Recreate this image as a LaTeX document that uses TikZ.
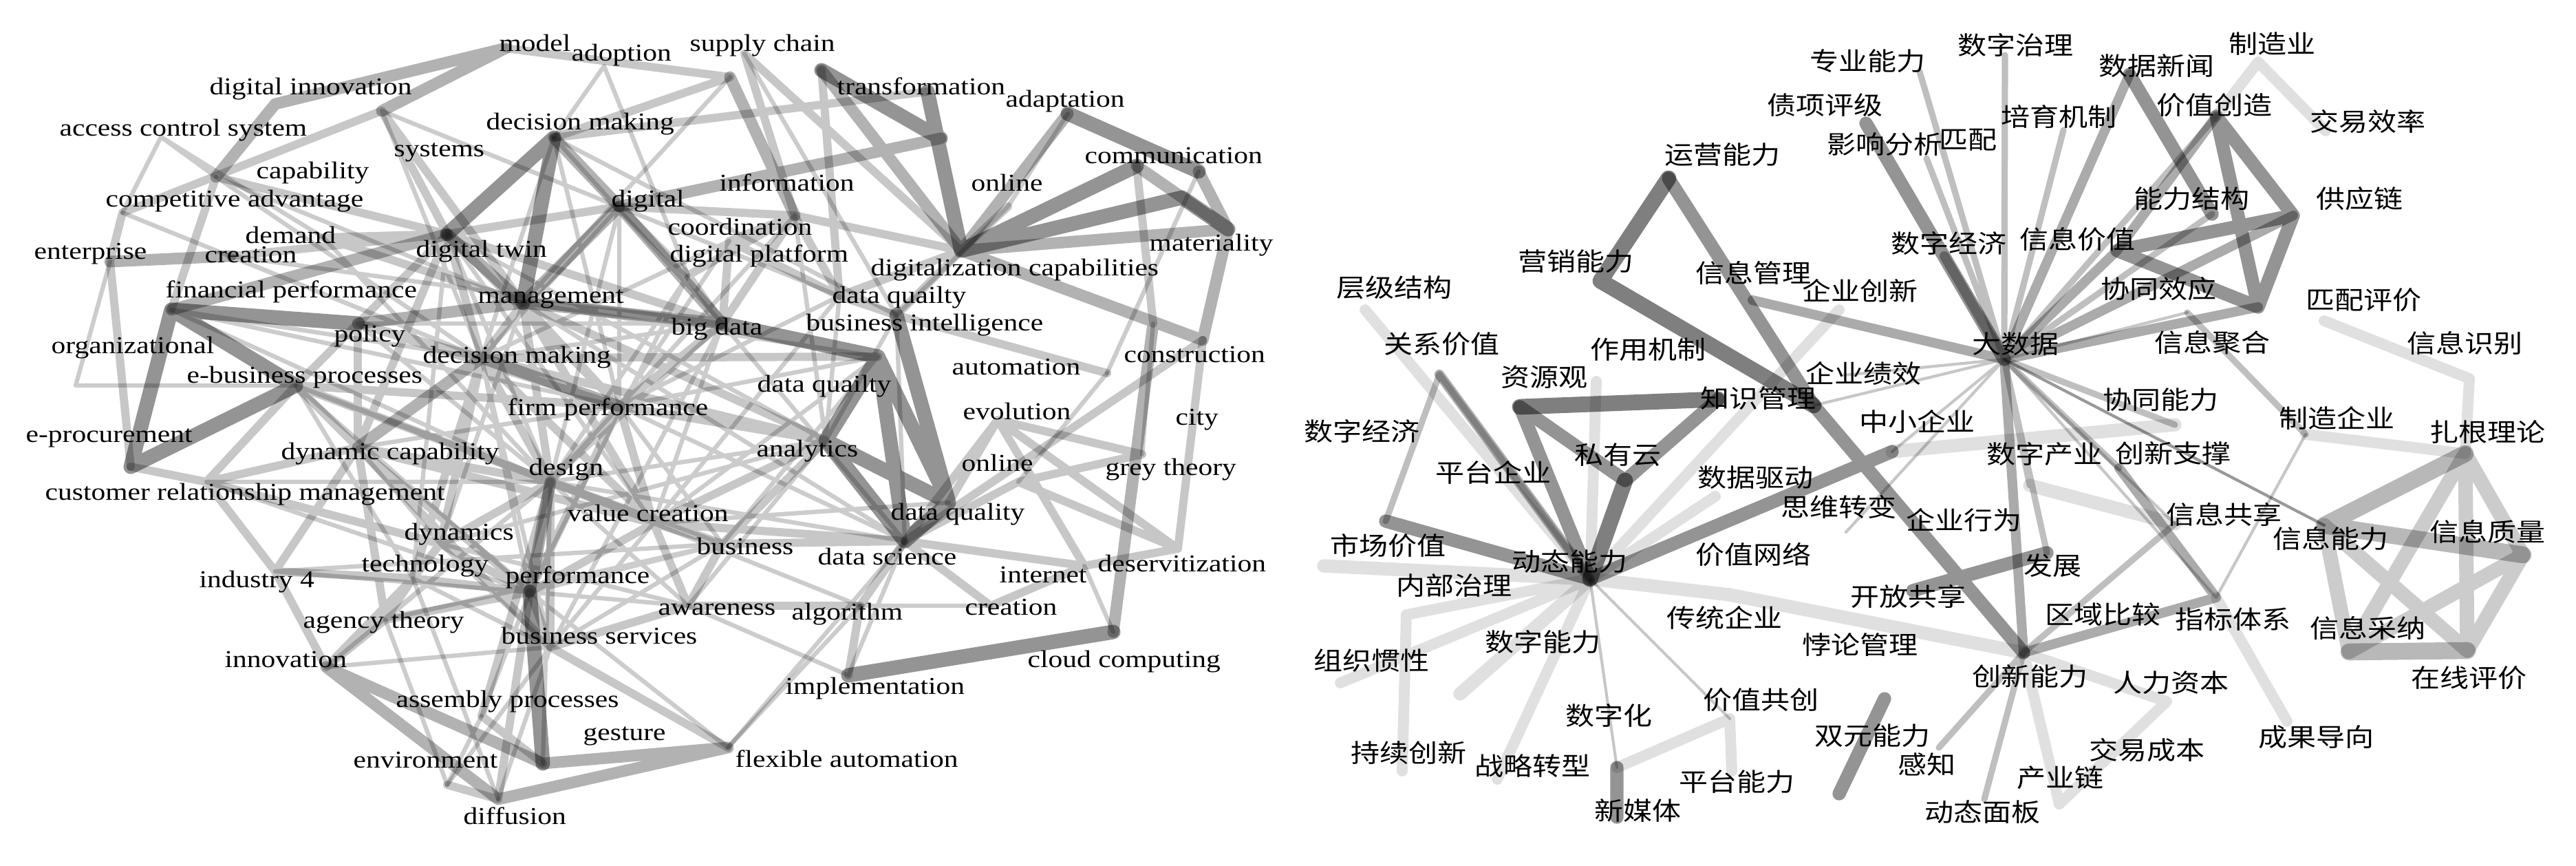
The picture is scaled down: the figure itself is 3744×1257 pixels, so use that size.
\documentclass[tikz,border=0pt]{standalone}
\usepackage{fontspec}
\setmainfont{Liberation Serif}[FakeStretch=1.18]
\newfontfamily\cjk{Noto Sans CJK SC}[FakeStretch=1.15]
\usepackage{tikz}

\begin{document}
\begin{tikzpicture}[
        x=0.01cm, y=-0.01cm,
        lbl/.style={anchor=base west, inner sep=0pt, font=\fontsize{10}{12}\selectfont},
        zh/.style={anchor=west, inner sep=0pt, font=\cjk\fontsize{10.4}{12}\selectfont},
        lnk/.style={line cap=round, draw=black},
        w1/.style={lnk, line width=1.2pt, draw opacity=.22},
        w2/.style={lnk, line width=2.6pt, draw opacity=.25},
        w3/.style={lnk, line width=4pt, draw opacity=.33},
        w4/.style={lnk, line width=5.5pt, draw opacity=.42},
        w5/.style={lnk, line width=6.5pt, draw opacity=.5},
        pale/.style={lnk, line width=4.5pt, draw opacity=.12}
    ]
    \useasboundingbox (0,0) rectangle (3744,1257);

    % Left network: vertex points
    \coordinate (pmodel) at (735,70);
    \coordinate (padop) at (878,96);
    \coordinate (psc1) at (1082,78);
    \coordinate (psc2) at (1194,102);
    \coordinate (psc3) at (1061,112);
    \coordinate (ptr1) at (1367,201);
    \coordinate (ptr2) at (1348,133);
    \coordinate (padap) at (1552,165);
    \coordinate (pcomm1) at (1652,241);
    \coordinate (pcomm2) at (1718,287);
    \coordinate (pcomm3) at (1742,249);
    \coordinate (pmat) at (1785,333);
    \coordinate (pdcap) at (1397,364);
    \coordinate (pon1) at (1465,300);
    \coordinate (pcons) at (1748,494);
    \coordinate (pcity) at (1676,470);
    \coordinate (pcloud) at (1618,918);
    \coordinate (pimp) at (1233,981);
    \coordinate (pflex) at (1058,1086);
    \coordinate (pdeserv) at (1712,797);
    \coordinate (pint) at (1576,822);
    \coordinate (pgrey) at (1660,660);
    \coordinate (pauto) at (1609,542);
    \coordinate (pevo) at (1450,610);
    \coordinate (pon2) at (1480,700);
    \coordinate (pdq) at (1379,730);
    \coordinate (pds) at (1315,786);
    \coordinate (pana) at (1200,640);
    \coordinate (pdq2) at (1276,518);
    \coordinate (pbi) at (1303,458);
    \coordinate (pdq1) at (1220,430);
    \coordinate (pbig) at (1050,470);
    \coordinate (pinfo) at (1155,313);
    \coordinate (pcoord) at (1060,350);
    \coordinate (pdplat) at (1000,400);
    \coordinate (pdig) at (900,300);
    \coordinate (pdm1) at (805,200);
    \coordinate (psys) at (555,161);
    \coordinate (pdinn) at (400,151);
    \coordinate (pacc) at (234,199);
    \coordinate (pcap) at (314,257);
    \coordinate (pcomp) at (178,309);
    \coordinate (pent) at (160,380);
    \coordinate (pcre) at (335,372);
    \coordinate (pdem) at (470,345);
    \coordinate (ptwin) at (650,340);
    \coordinate (pfin) at (249,450);
    \coordinate (pmgmt) at (760,440);
    \coordinate (ppol) at (520,470);
    \coordinate (porg) at (110,560);
    \coordinate (pebp) at (430,560);
    \coordinate (pdm2) at (700,520);
    \coordinate (pproc) at (190,678);
    \coordinate (pcrm) at (300,700);
    \coordinate (pdyn) at (520,650);
    \coordinate (pfirm) at (900,590);
    \coordinate (pdes) at (800,700);
    \coordinate (pval) at (950,760);
    \coordinate (pdync) at (640,790);
    \coordinate (ptech) at (600,840);
    \coordinate (pind) at (400,830);
    \coordinate (pperf) at (770,860);
    \coordinate (pag) at (560,900);
    \coordinate (pbs) at (800,940);
    \coordinate (pinn) at (474,969);
    \coordinate (pasm) at (700,1040);
    \coordinate (pges) at (789,1109);
    \coordinate (penv) at (650,1140);
    \coordinate (pdif) at (724,1161);
    \coordinate (pbus) at (1050,790);
    \coordinate (pawa) at (1000,880);
    \coordinate (palg) at (1250,880);
    \coordinate (pcre2) at (1440,880);

    \begin{scope}[
            w1/.style={lnk, line width=1.8pt, draw opacity=.2},
            w2/.style={lnk, line width=3.4pt, draw opacity=.22},
            w3/.style={lnk, line width=4.8pt, draw opacity=.3},
            w4/.style={lnk, line width=6pt, draw opacity=.42}
        ]
    % Left network: upper left
    \draw[w3] (pdinn) -- (pmodel) (psys) -- (pmodel) (pcap) -- (pdinn) (pent) -- (pcre)
        (pfin) -- (ptwin) (pdm1) -- (pdig);
    \draw[w1] (pacc) -- (pcomp) (pacc) -- (pcap) (pacc) -- (pdem) (porg) -- (pent)
        (porg) -- (pebp) (padop) -- (pdplat) (padop) -- (pdm1);
    \draw[w2] (pcomp) -- (psys) (pent) -- (pcomp) (pent) -- (pproc) (pfin) -- (pcap)
        (psys) -- (ptwin) (psys) -- (pmgmt) (pmodel) -- (psc3) (pdm1) -- (psc3)
        (pcre) -- (ptwin) (pdem) -- (ptwin) (pdem) -- (pmgmt) (pcap) -- (ptwin);
    \draw[w4] (pfin) -- (pproc) (pfin) -- (pebp) (pproc) -- (pebp) (pdm1) -- (ptwin)
        (pdm1) -- (pmgmt) (pfin) -- (ppol);

    % Left network: dense centre
    \draw[w2] (ptwin) -- (pdm2) (ptwin) -- (pfirm) (ptwin) -- (pbig) (ptwin) -- (pdig)
        (ptwin) -- (pebp) (ptwin) -- (pdyn) (pmgmt) -- (pdm2) (pmgmt) -- (pfirm)
        (pmgmt) -- (pdes) (pmgmt) -- (pbig) (pmgmt) -- (pval) (pmgmt) -- (pana)
        (pdm2) -- (pdes) (pdm2) -- (pval) (pdm2) -- (pdync) (pdm2) -- (ptech)
        (pdm2) -- (pana) (pdm2) -- (pdq2) (ppol) -- (pdm2) (ppol) -- (pdyn)
        (ppol) -- (pfirm) (pebp) -- (pdyn) (pebp) -- (pdes) (pebp) -- (pfirm)
        (pdyn) -- (pdes) (pdyn) -- (pval) (pdyn) -- (pperf) (pdyn) -- (pbs)
        (pfirm) -- (pdes) (pfirm) -- (pbig) (pfirm) -- (pana) (pfirm) -- (pval)
        (pfirm) -- (pperf) (pdes) -- (pval) (pdes) -- (pperf) (pdes) -- (pbs)
        (pdes) -- (pdync) (pdes) -- (pbus) (pval) -- (pbus) (pval) -- (pana)
        (pval) -- (pds) (pval) -- (pawa) (pval) -- (pperf) (pdync) -- (ptech)
        (pdync) -- (pperf) (pdync) -- (pcrm) (ptech) -- (pag) (ptech) -- (pperf)
        (ptech) -- (pind) (pperf) -- (pbs) (pbs) -- (pawa) (pbus) -- (pds)
        (pbus) -- (pana) (pbus) -- (pawa) (pawa) -- (palg) (palg) -- (pds)
        (pbig) -- (pdplat) (pbig) -- (pcoord) (pdplat) -- (pdig) (pdplat) -- (pinfo)
        (pcoord) -- (pinfo) (pcoord) -- (pdq1) (pdig) -- (pinfo) (pinfo) -- (pdq1)
        (pinfo) -- (pbig) (pcrm) -- (pdyn) (pcrm) -- (pebp) (pcrm) -- (pproc)
        (pind) -- (pdyn) (pind) -- (pcrm) (pinn) -- (ptech) (pinn) -- (pag)
        (pinn) -- (pind) (pag) -- (pperf) (pag) -- (pdyn);
    \draw[w1] (pfin) -- (pfirm) (pcap) -- (pmgmt) (pcomp) -- (pdm2) (pebp) -- (pval)
        (pdig) -- (pdes) (pinfo) -- (pdes) (pcoord) -- (pdm2) (psc3) -- (pmgmt)
        (pdplat) -- (pperf) (pbig) -- (pbs) (pdq1) -- (pval) (pana) -- (pdync)
        (pdm1) -- (pbi) (psys) -- (pdq1) (pcre) -- (pbig) (pcrm) -- (pdes)
        (pind) -- (pbus) (pag) -- (pbus) (pdync) -- (pawa) (pinn) -- (pdes)
        (ptwin) -- (pdes) (ptwin) -- (pval) (ptwin) -- (pana) (pmgmt) -- (pdq2)
        (pmgmt) -- (pds) (pdm2) -- (pbig) (pdm2) -- (pbs) (pdm2) -- (pperf)
        (ppol) -- (pdes) (ppol) -- (pbig) (pebp) -- (pperf) (pebp) -- (ptech)
        (pdyn) -- (pdync) (pdyn) -- (pfirm) (pfirm) -- (pdq2) (pfirm) -- (pds)
        (pfirm) -- (pbus) (pdes) -- (pana) (pdes) -- (pds) (pdes) -- (pawa)
        (pval) -- (pdq) (pval) -- (pdq2) (pval) -- (pbs) (pdync) -- (pbs)
        (ptech) -- (pbs) (pperf) -- (pbus) (pperf) -- (pawa) (pbs) -- (pbus)
        (pbig) -- (pds) (pbig) -- (pval) (pbig) -- (pdes) (pdig) -- (pdm2)
        (pdig) -- (pfirm) (pinfo) -- (pfirm) (pinfo) -- (pana) (pcoord) -- (pfirm)
        (pdplat) -- (pdes) (pdq1) -- (pana) (pdq1) -- (pfirm) (pbi) -- (pana)
        (pbi) -- (pds) (pdq2) -- (pbus) (pmgmt) -- (pdync) (ptwin) -- (ptech)
        (pdm1) -- (pdm2) (pdm1) -- (pfirm) (pdm1) -- (pbig) (psys) -- (pdm2)
        (pcap) -- (pdm2) (pdem) -- (pdes) (pcre) -- (pdm2) (pfin) -- (pdm2)
        (pfin) -- (pdes) (pebp) -- (pbus) (pcrm) -- (pperf) (pind) -- (pperf)
        (pag) -- (pdes) (pinn) -- (pbs) (pasm) -- (pperf) (penv) -- (pbs)
        (pdif) -- (pbs) (pges) -- (pdes) (pflex) -- (pperf) (pflex) -- (pds)
        (palg) -- (pval) (pawa) -- (pana);
    \draw[w3] (pdig) -- (pmgmt) (pmgmt) -- (ptwin) (pbig) -- (pmgmt) (pbig) -- (pdig)
        (pdm2) -- (pfirm) (pdes) -- (pperf) (ppol) -- (pmgmt) (pdyn) -- (pdm2);
    \draw[w4] (pdq2) -- (pbig) (pdq) -- (pds) (pds) -- (pana) (pdq2) -- (pds)
        (pdq) -- (pdq2) (pdq) -- (pana) (pana) -- (pdq2) (pdq) -- (pbi);

    % Left network: upper right
    \draw[w2] (psc1) -- (pinfo) (psc1) -- (pdcap) (psc2) -- (pdq1) (ptr2) -- (pdm1)
        (pdcap) -- (pon1) (pcomm1) -- (pcity) (pbi) -- (pdcap) (pbi) -- (pdq1)
        (pauto) -- (pbi) (pcons) -- (pds) (pdcap) -- (pdq1) (pdcap) -- (pinfo);
    \draw[w1] (psc1) -- (pbi) (pon1) -- (pbi) (padap) -- (pon1) (pcomm3) -- (pauto);
    \draw[w3] (psc3) -- (pinfo) (ptr1) -- (pdig) (padap) -- (pdcap) (pdcap) -- (pmat)
        (pdcap) -- (pcons) (pcomm1) -- (pmat) (pmat) -- (pcons) (pcity) -- (pcloud)
        (psc2) -- (pdcap) (pcomm3) -- (pmat);
    \draw[w4] (psc2) -- (ptr1) (ptr2) -- (pdcap) (padap) -- (pcomm3) (pdcap) -- (pcomm1)
        (pdcap) -- (pcomm2) (pcomm2) -- (pmat) (pcloud) -- (pimp);

    % Left network: lower right
    \draw[w2] (pdeserv) -- (pon2) (pdeserv) -- (pevo) (pdeserv) -- (pint) (pint) -- (pevo)
        (pint) -- (pds) (pgrey) -- (pon2) (pgrey) -- (pevo) (pcons) -- (pdeserv)
        (pon2) -- (pds) (pds) -- (pevo) (pds) -- (pcre2) (pdq) -- (pevo)
        (pcre2) -- (pint) (palg) -- (pimp);
    \draw[w1] (pimp) -- (pds) (pimp) -- (pawa) (pgrey) -- (pcity) (pcre2) -- (palg)
        (pint) -- (pcloud) (pauto) -- (pon2);

    % Left network: lower left
    \draw[w3] (pinn) -- (pdif) (pinn) -- (pges) (pdif) -- (pflex) (pges) -- (pflex);
    \draw[w4] (pges) -- (pperf);
    \draw[w2] (pges) -- (pasm) (pdif) -- (penv) (pflex) -- (pbs) (pasm) -- (pdes)
        (pdif) -- (pperf);
    \draw[w1] (pdif) -- (ptech) (penv) -- (pasm) (pflex) -- (palg) (penv) -- (pag);
    \end{scope}

    % Left network: labels
    \node[lbl] (model) at (725,74) {model};
    \node[lbl] (adoption) at (830,88) {adoption};
    \node[lbl] (dinnov) at (304,137) {digital innovation};
    \node[lbl] (acs) at (86,197) {access control system};
    \node[lbl] (dmakA) at (706,188) {decision making};
    \node[lbl] (systems) at (572,227) {systems};
    \node[lbl] (capab) at (372,259) {capability};
    \node[lbl] (compadv) at (153,300) {competitive advantage};
    \node[lbl] (demand) at (356,353) {demand};
    \node[lbl] (enterp) at (49,376) {enterprise};
    \node[lbl] (creA) at (297,381) {creation};
    \node[lbl] (dtwin) at (604,373) {digital twin};
    \node[lbl] (finperf) at (240,432) {financial performance};
    \node[lbl] (mgmt) at (694,440) {management};
    \node[lbl] (policy) at (485,496) {policy};
    \node[lbl] (org) at (74,513) {organizational};
    \node[lbl] (dmakB) at (614,527) {decision making};
    \node[lbl] (ebp) at (271,556) {e-business processes};
    \node[lbl] (firmperf) at (737,603) {firm performance};
    \node[lbl] (supply) at (1002,74) {supply chain};
    \node[lbl] (transf) at (1216,137) {transformation};
    \node[lbl] (adapt) at (1461,155) {adaptation};
    \node[lbl] (comm) at (1576,237) {communication};
    \node[lbl] (info) at (1045,277) {information};
    \node[lbl] (onlA) at (1411,277) {online};
    \node[lbl] (digital) at (888,300) {digital};
    \node[lbl] (coord) at (970,341) {coordination};
    \node[lbl] (mater) at (1670,364) {materiality};
    \node[lbl] (dplat) at (973,380) {digital platform};
    \node[lbl] (digcap) at (1265,400) {digitalization capabilities};
    \node[lbl] (dqA) at (1209,440) {data quailty};
    \node[lbl] (bi) at (1171,480) {business intelligence};
    \node[lbl] (bigdata) at (975,486) {big data};
    \node[lbl] (constr) at (1633,526) {construction};
    \node[lbl] (autom) at (1383,544) {automation};
    \node[lbl] (dqB) at (1100,569) {data quailty};
    \node[lbl] (evol) at (1399,609) {evolution};
    \node[lbl] (city) at (1708,617) {city};
    \node[lbl] (eproc) at (37,642) {e-procurement};
    \node[lbl] (dyncap) at (408,667) {dynamic capability};
    \node[lbl] (analyt) at (1099,663) {analytics};
    \node[lbl] (onlB) at (1397,684) {online};
    \node[lbl] (design) at (768,690) {design};
    \node[lbl] (grey) at (1606,690) {grey theory};
    \node[lbl] (crm) at (65,726) {customer relationship management};
    \node[lbl] (dq) at (1294,755) {data quality};
    \node[lbl] (valcr) at (824,757) {value creation};
    \node[lbl] (dynam) at (587,784) {dynamics};
    \node[lbl] (business) at (1012,805) {business};
    \node[lbl] (dsci) at (1188,820) {data science};
    \node[lbl] (deserv) at (1595,830) {deservitization};
    \node[lbl] (tech) at (525,830) {technology};
    \node[lbl] (internet) at (1452,846) {internet};
    \node[lbl] (perf) at (734,847) {performance};
    \node[lbl] (ind4) at (289,853) {industry 4};
    \node[lbl] (aware) at (956,893) {awareness};
    \node[lbl] (creB) at (1402,893) {creation};
    \node[lbl] (algo) at (1150,900) {algorithm};
    \node[lbl] (agency) at (440,912) {agency theory};
    \node[lbl] (bserv) at (728,935) {business services};
    \node[lbl] (innov) at (326,969) {innovation};
    \node[lbl] (cloud) at (1493,969) {cloud computing};
    \node[lbl] (impl) at (1141,1008) {implementation};
    \node[lbl] (assem) at (575,1027) {assembly processes};
    \node[lbl] (gesture) at (847,1075) {gesture};
    \node[lbl] (flex) at (1068,1114) {flexible automation};
    \node[lbl] (environ) at (513,1115) {environment};
    \node[lbl] (diffus) at (673,1197) {diffusion};

    % Right network: vertex points
    \coordinate (pdsj) at (2913,522);
    \coordinate (pyynl) at (2425,259);
    \coordinate (pyxnl) at (2326,408);
    \coordinate (pzsgl) at (2497,580);
    \coordinate (pzsgl2) at (2636,589);
    \coordinate (pzyg) at (2209,591);
    \coordinate (psyy) at (2362,698);
    \coordinate (pdtnl) at (2311,841);
    \coordinate (pgxjz) at (2092,544);
    \coordinate (pscjz) at (2014,757);
    \coordinate (pscjz2) at (1924,822);
    \coordinate (pcjjg) at (1984,450);
    \coordinate (pnbzl) at (2044,893);
    \coordinate (pcxcx) at (2038,1120);
    \coordinate (pzzgx) at (1948,992);
    \coordinate (psznl) at (2122,1008);
    \coordinate (pzlzx) at (2176,1132);
    \coordinate (pxmt) at (2350,1115);
    \coordinate (pxmt2) at (2350,1187);
    \coordinate (pjzgc) at (2514,1044);
    \coordinate (pptnl) at (2517,1120);
    \coordinate (psynl) at (2739,1015);
    \coordinate (psynl2) at (2673,1153);
    \coordinate (pctqy) at (2514,864);
    \coordinate (pcxnl) at (2941,948);
    \coordinate (pzxqy) at (2750,656);
    \coordinate (pswzb) at (2683,773);
    \coordinate (psjqd) at (2493,721);
    \coordinate (pzyjz) at (2320,554);
    \coordinate (pqycx) at (2547,436);
    \coordinate (pqycx2) at (2673,450);
    \coordinate (pqyjx) at (2680,545);
    \coordinate (pzynl) at (2790,104);
    \coordinate (pzxpj) at (2712,179);
    \coordinate (pyxfx) at (2800,230);
    \coordinate (pszzl) at (2914,80);
    \coordinate (ppyjz) at (2999,189);
    \coordinate (psjxw) at (3095,108);
    \coordinate (pjzcz) at (3221,169);
    \coordinate (pnljg) at (3215,311);
    \coordinate (pgyl) at (3333,313);
    \coordinate (pxxjz) at (3077,364);
    \coordinate (pszjjA) at (2826,372);
    \coordinate (pxtxy) at (3282,446);
    \coordinate (pxxjh) at (3179,454);
    \coordinate (pzzqy) at (3351,631);
    \coordinate (pzzy) at (3282,90);
    \coordinate (pjyxl) at (3380,190);
    \coordinate (ppppj) at (3378,466);
    \coordinate (pxxsb) at (3589,550);
    \coordinate (pzgll) at (3583,659);
    \coordinate (pxxnl) at (3378,763);
    \coordinate (pxxzl) at (3667,806);
    \coordinate (pxxcn) at (3414,947);
    \coordinate (pzxpjB) at (3586,945);
    \coordinate (pzbtx) at (3221,868);
    \coordinate (pxxgx) at (3161,761);
    \coordinate (pcxzc) at (3080,680);
    \coordinate (pszcy) at (2950,705);
    \coordinate (pfz) at (2975,803);
    \coordinate (pkfgx) at (2780,858);
    \coordinate (pcgdx) at (3324,1048);
    \coordinate (prlzb) at (3149,1019);
    \coordinate (pcyl) at (2993,1168);
    \coordinate (pdtmb) at (2884,1161);
    \coordinate (pgz) at (2818,1086);
    \coordinate (pxtnl) at (3161,617);

    % Right network: pale links
    \draw[pale] (pcjjg) -- (pdtnl) (pnbzl) -- (pdtnl) (pzzgx) -- (pdtnl) (pnbzl) -- (pcxcx)
        (pzlzx) -- (pdtnl) (pjzgc) -- (pptnl) (pxmt) -- (pjzgc) (pzyjz) -- (pdtnl)
        (pdtnl) -- (pqycx2) (pzzqy) -- (pzgll) (pzzy) -- (pjzcz) (pzzy) -- (pjyxl)
        (ppppj) -- (pxxsb) (pxxsb) -- (pzgll) (pzbtx) -- (pcgdx) (pcxnl) -- (prlzb)
        (prlzb) -- (pcyl) (pcxnl) -- (pcyl) (pdtnl) -- (psjqd);
    \draw[pale, line width=5.5pt] (pscjz2) -- (pdtnl) (psznl) -- (pdtnl) (pdtnl) -- (pctqy)
        (pctqy) -- (pcxnl) (pzxqy) -- (pxtnl) (pszcy) -- (pxxgx);

    % Right network: thin links
    \draw[w1] (pdtnl) -- (pxmt) (pdtnl) -- (pjzgc) (pdsj) -- (pqyjx) (pdsj) -- (pzxqy)
        (pdsj) -- (pswzb) (pdsj) -- (pzsgl2) (pdsj) -- (pxxgx) (pdsj) -- (pzbtx)
        (pzzqy) -- (pzbtx) (pdsj) -- (pxxjh);
    \draw[w1, draw opacity=.4] (pdsj) -- (pxxnl);
    \draw[w2] (pgxjz) -- (pdtnl) (pgxjz) -- (pscjz) (pzynl) -- (pdsj) (pszzl) -- (pdsj)
        (ppyjz) -- (pdsj) (pyxfx) -- (pdsj) (pjzcz) -- (pdsj) (pnljg) -- (pdsj)
        (pdsj) -- (pszcy) (pdsj) -- (pcxzc) (pdsj) -- (pfz) (pdsj) -- (pxtnl)
        (pcxnl) -- (pxxgx) (pxxjh) -- (pzzqy) (pcxnl) -- (pdtmb) (pcxnl) -- (pgz);

    % Right network: grey links
    \draw[w3] (pgxjz) -- (pdtnl) (psjxw) -- (pdsj) (pjzcz) -- (pxxjz) (pgyl) -- (pdsj)
        (pxtxy) -- (pdsj) (pqycx) -- (pdsj) (pszjjA) -- (pdsj) (pxxjz) -- (pdsj)
        (pdsj) -- (pcxnl) (pcxnl) -- (pzbtx) (pcxzc) -- (pzbtx);
    \draw[w4] (pyynl) -- (pzsgl2) (pzsgl2) -- (pcxnl) (pzyg) -- (psyy) (pzyg) -- (pdtnl)
        (psyy) -- (pzsgl) (psjxw) -- (pnljg) (pjzcz) -- (pgyl) (pjzcz) -- (pxtxy)
        (pxxjz) -- (pgyl) (pxxjz) -- (pxtxy) (pgyl) -- (pxtxy) (pzxpj) -- (pdsj)
        (pscjz) -- (pdtnl) (pdtnl) -- (pzxqy) (pfz) -- (pkfgx) (psynl) -- (psynl2)
        (pxmt) -- (pxmt2);
    \draw[w5] (pyynl) -- (pyxnl) (pyxnl) -- (pzsgl2) (pzyg) -- (pzsgl) (psyy) -- (pdtnl);

    % Right network: information cluster
    \draw[pale, line width=6pt, draw opacity=.2] (pzgll) -- (pxxzl) (pzgll) -- (pzxpjB)
        (pzgll) -- (pxxcn) (pxxnl) -- (pxxcn) (pxxnl) -- (pzxpjB) (pxxzl) -- (pxxcn)
        (pxxzl) -- (pzxpjB);
    \draw[pale, line width=7pt, draw opacity=.28] (pzgll) -- (pxxnl) (pxxnl) -- (pxxzl)
        (pxxcn) -- (pzxpjB);

    % Right network: labels
    \node[zh] (zynl) at (2630,89) {专业能力};
    \node[zh] (szzl) at (2845,66) {数字治理};
    \node[zh] (zzy) at (3239,64) {制造业};
    \node[zh] (sjxw) at (3050,96) {数据新闻};
    \node[zh] (jzcz) at (3134,153) {价值创造};
    \node[zh] (zxpj) at (2568,153) {债项评级};
    \node[zh] (pyjz) at (2908,169) {培育机制};
    \node[zh] (jyxl) at (3357,177) {交易效率};
    \node[zh] (yxfx) at (2655,210) {影响分析};
    \node[zh] (pp) at (2818,203) {匹配};
    \node[zh] (yynl) at (2419,225) {运营能力};
    \node[zh] (nljg) at (3101,289) {能力结构};
    \node[zh] (gyl) at (3366,289) {供应链};
    \node[zh] (xxjz) at (2935,348) {信息价值};
    \node[zh] (szjjA) at (2748,354) {数字经济};
    \node[zh] (yxnl) at (2206,380) {营销能力};
    \node[zh] (xxgl) at (2464,396) {信息管理};
    \node[zh] (cjjg) at (1942,418) {层级结构};
    \node[zh] (qycx) at (2619,422) {企业创新};
    \node[zh] (xtxy) at (3053,420) {协同效应};
    \node[zh] (pppj) at (3351,436) {匹配评价};
    \node[zh] (dsj) at (2866,500) {大数据};
    \node[zh] (xxjh) at (3131,498) {信息聚合};
    \node[zh] (xxsb) at (3498,498) {信息识别};
    \node[zh] (gxjz) at (2011,500) {关系价值};
    \node[zh] (zyjz) at (2311,508) {作用机制};
    \node[zh] (qyjx) at (2624,542) {企业绩效};
    \node[zh] (zyg) at (2181,548) {资源观};
    \node[zh] (zsgl) at (2471,579) {知识管理};
    \node[zh] (xtnl) at (3056,581) {协同能力};
    \node[zh] (zxqy) at (2702,612) {中小企业};
    \node[zh] (zzqy) at (3312,607) {制造企业};
    \node[zh] (szjjB) at (1895,627) {数字经济};
    \node[zh] (zgll) at (3531,628) {扎根理论};
    \node[zh] (syy) at (2288,661) {私有云};
    \node[zh] (szcy) at (2887,660) {数字产业};
    \node[zh] (cxzc) at (3074,659) {创新支撑};
    \node[zh] (ptqy) at (2086,686) {平台企业};
    \node[zh] (sjqd) at (2467,694) {数据驱动};
    \node[zh] (swzb) at (2588,736) {思维转变};
    \node[zh] (xxgx) at (3148,747) {信息共享};
    \node[zh] (qyxw) at (2770,755) {企业行为};
    \node[zh] (xxzl) at (3531,772) {信息质量};
    \node[zh] (xxnl) at (3303,782) {信息能力};
    \node[zh] (scjz) at (1933,793) {市场价值};
    \node[zh] (jzwl) at (2464,805) {价值网络};
    \node[zh] (dtnl) at (2197,816) {动态能力};
    \node[zh] (fz) at (2941,822) {发展};
    \node[zh] (nbzl) at (2029,851) {内部治理};
    \node[zh] (kfgx) at (2689,867) {开放共享};
    \node[zh] (qybj) at (2972,893) {区域比较};
    \node[zh] (ctqy) at (2422,897) {传统企业};
    \node[zh] (zbtx) at (3161,900) {指标体系};
    \node[zh] (xxcn) at (3357,912) {信息采纳};
    \node[zh] (sznl) at (2158,933) {数字能力};
    \node[zh] (blgl) at (2619,937) {悖论管理};
    \node[zh] (zzgx) at (1909,960) {组织惯性};
    \node[zh] (cxnl) at (2866,983) {创新能力};
    \node[zh] (zxpjB) at (3504,985) {在线评价};
    \node[zh] (rlzb) at (3071,992) {人力资本};
    \node[zh] (jzgc) at (2475,1017) {价值共创};
    \node[zh] (szh) at (2275,1040) {数字化};
    \node[zh] (synl) at (2637,1069) {双元能力};
    \node[zh] (cgdx) at (3282,1071) {成果导向};
    \node[zh] (jycb) at (3036,1090) {交易成本};
    \node[zh] (cxcx) at (1963,1094) {持续创新};
    \node[zh] (gz) at (2758,1110) {感知};
    \node[zh] (zlzx) at (2143,1113) {战略转型};
    \node[zh] (cyl) at (2931,1130) {产业链};
    \node[zh] (ptnl) at (2440,1136) {平台能力};
    \node[zh] (xmt) at (2317,1178) {新媒体};
    \node[zh] (dtmb) at (2797,1180) {动态面板};

\end{tikzpicture}
\end{document}
